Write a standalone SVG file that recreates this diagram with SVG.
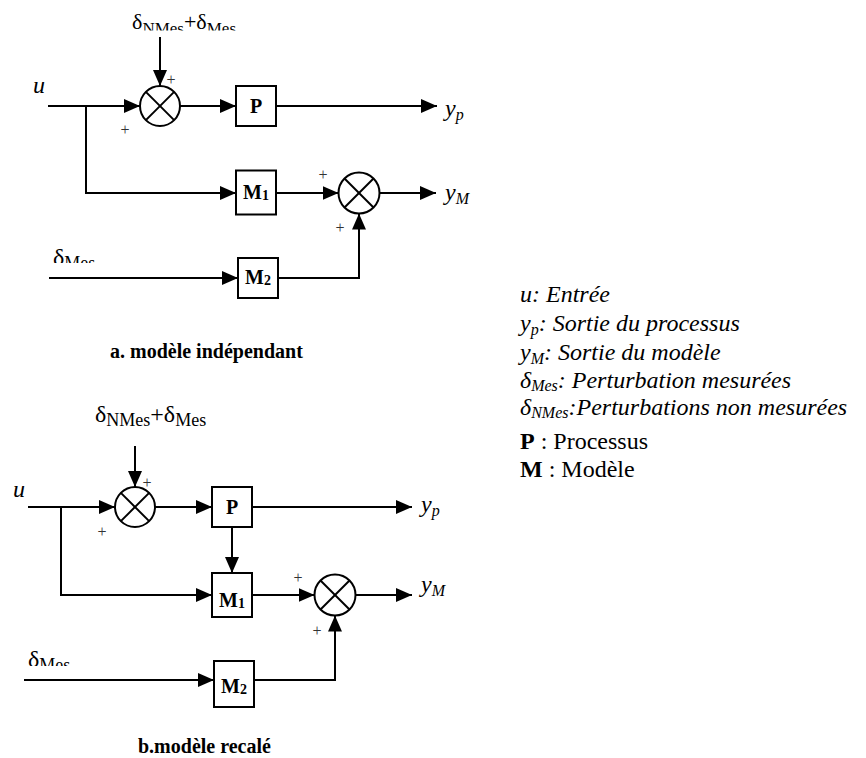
<svg xmlns="http://www.w3.org/2000/svg" width="866" height="758" viewBox="0 0 866 758">
<style>
.ln{fill:none;stroke:#000;stroke-width:2}
.ar{marker-end:url(#ah)}
.box{fill:#fff;stroke:#000;stroke-width:2}
.sum circle{fill:#fff;stroke:#000;stroke-width:2}
.sum line{stroke:#000;stroke-width:2}
.t{font-family:"Liberation Serif","Times New Roman",serif;fill:#000}
.bl{font-weight:bold;font-size:20px;text-anchor:middle}
.pl{font-family:"Liberation Serif","Times New Roman",serif;font-size:16px;fill:#333;text-anchor:middle}
.it{font-style:italic;font-size:24px}
.cap{font-size:20px;font-weight:bold}
.lg{font-size:24px;font-style:italic}
</style>
<defs>
<marker id="ah" markerUnits="userSpaceOnUse" markerWidth="16" markerHeight="14" refX="16" refY="7" orient="auto"><path d="M0,0 L16,7 L0,14 Z" fill="#000"/></marker>
<clipPath id="cA"><rect x="0" y="0" width="400" height="30.5"/></clipPath>
<clipPath id="cB"><rect x="0" y="230" width="200" height="33"/></clipPath>
<clipPath id="cC"><rect x="0" y="630" width="200" height="36"/></clipPath>
</defs>

<!-- ===== a. modèle indépendant ===== -->
<g id="connectors-a">
<line class="ln ar" x1="160" y1="37" x2="160" y2="86"/>
<line class="ln ar" x1="48" y1="106" x2="140" y2="106"/>
<polyline class="ln ar" points="86,106 86,193 236,193"/>
<line class="ln ar" x1="180" y1="106" x2="236" y2="106"/>
<line class="ln ar" x1="276" y1="106" x2="437" y2="106"/>
<line class="ln ar" x1="276" y1="193" x2="338.5" y2="193"/>
<line class="ln ar" x1="379.5" y1="193" x2="436" y2="193"/>
<line class="ln ar" x1="49" y1="278" x2="238" y2="278"/>
<polyline class="ln ar" points="278,278 359,278 359,213.5"/>
</g>

<g id="sum1a" class="sum"><circle cx="160" cy="106" r="20"/><line x1="145.86" y1="91.86" x2="174.14" y2="120.14"/><line x1="174.14" y1="91.86" x2="145.86" y2="120.14"/></g>
<g id="Pa"><rect class="box" x="236" y="86" width="40" height="40"/><text class="t bl" x="256" y="113">P</text></g>
<g id="M1a"><rect class="box" x="236" y="170.5" width="40" height="44"/><text class="t bl" x="256" y="199">M<tspan font-size="14" dy="1">1</tspan></text></g>
<g id="M2a"><rect class="box" x="238" y="258" width="40" height="40"/><text class="t bl" x="258" y="284">M<tspan font-size="14" dy="1">2</tspan></text></g>
<g id="sum2a" class="sum"><circle cx="359" cy="193" r="20.5"/><line x1="344.5" y1="178.5" x2="373.5" y2="207.5"/><line x1="373.5" y1="178.5" x2="344.5" y2="207.5"/></g>

<g id="labels-a">
<text class="t" x="132" y="28.5" font-size="22" clip-path="url(#cA)">δ<tspan font-size="17" dy="5">NMes</tspan><tspan dy="-5">+δ</tspan><tspan font-size="17" dy="5">Mes</tspan></text>
<text class="t it" x="33" y="93">u</text>
<text class="t it" x="445" y="116">y<tspan font-size="16" dy="4">p</tspan></text>
<text class="t it" x="445" y="200">y<tspan font-size="16" dy="4">M</tspan></text>
<text class="t" x="53" y="265" font-size="24" clip-path="url(#cB)">δ<tspan font-size="18" dy="4">Mes</tspan></text>
<text class="pl" x="171" y="85">+</text>
<text class="pl" x="125" y="135">+</text>
<text class="pl" x="323" y="180">+</text>
<text class="pl" x="340" y="233">+</text>
<text class="t cap" x="110" y="358">a. modèle indépendant</text>
</g>

<!-- ===== b. modèle recalé ===== -->
<g id="connectors-b">
<line class="ln ar" x1="135" y1="446" x2="135" y2="487"/>
<line class="ln ar" x1="28" y1="507" x2="115" y2="507"/>
<polyline class="ln ar" points="61,507 61,595 212,595"/>
<line class="ln ar" x1="155" y1="507" x2="212" y2="507"/>
<line class="ln ar" x1="252" y1="507" x2="412" y2="507"/>
<line class="ln ar" x1="232" y1="527" x2="232" y2="573"/>
<line class="ln ar" x1="252" y1="595" x2="314.5" y2="595"/>
<line class="ln ar" x1="355.5" y1="595" x2="412" y2="595"/>
<line class="ln ar" x1="24" y1="680" x2="214" y2="680"/>
<polyline class="ln ar" points="254,680 335,680 335,615.5"/>
</g>

<g id="sum1b" class="sum"><circle cx="135" cy="507" r="20"/><line x1="120.86" y1="492.86" x2="149.14" y2="521.14"/><line x1="149.14" y1="492.86" x2="120.86" y2="521.14"/></g>
<g id="Pb"><rect class="box" x="212" y="487" width="40" height="40"/><text class="t bl" x="232" y="514">P</text></g>
<g id="M1b"><rect class="box" x="212" y="573" width="40" height="44"/><text class="t bl" x="232" y="607">M<tspan font-size="14" dy="1">1</tspan></text></g>
<g id="M2b"><rect class="box" x="214" y="661" width="40" height="46"/><text class="t bl" x="234" y="693">M<tspan font-size="14" dy="1">2</tspan></text></g>
<g id="sum2b" class="sum"><circle cx="335" cy="595" r="20.5"/><line x1="320.5" y1="580.5" x2="349.5" y2="609.5"/><line x1="349.5" y1="580.5" x2="320.5" y2="609.5"/></g>

<g id="labels-b">
<text class="t" x="95" y="421.5" font-size="24">δ<tspan font-size="18" dy="4">NMes</tspan><tspan dy="-4">+δ</tspan><tspan font-size="18" dy="4">Mes</tspan></text>
<text class="t it" x="13" y="497">u</text>
<text class="t it" x="421" y="512">y<tspan font-size="16" dy="4">p</tspan></text>
<text class="t it" x="421" y="592">y<tspan font-size="16" dy="4">M</tspan></text>
<text class="t" x="28" y="667" font-size="24" clip-path="url(#cC)">δ<tspan font-size="18" dy="4">Mes</tspan></text>
<text class="pl" x="147" y="488">+</text>
<text class="pl" x="102" y="537">+</text>
<text class="pl" x="298" y="583">+</text>
<text class="pl" x="317" y="636">+</text>
<text class="t cap" x="138" y="753">b.modèle recalé</text>
</g>

<!-- ===== legend ===== -->
<g id="legend">
<text class="t lg" x="520" y="302">u: Entrée</text>
<text class="t lg" x="520" y="331">y<tspan font-size="16" dy="4">p</tspan><tspan dy="-4">: Sortie du processus</tspan></text>
<text class="t lg" x="520" y="360">y<tspan font-size="16" dy="4">M</tspan><tspan dy="-4">: Sortie du modèle</tspan></text>
<text class="t lg" x="520" y="388">δ<tspan font-size="16" dy="3">Mes</tspan><tspan dy="-3">: Perturbation mesurées</tspan></text>
<text class="t lg" x="520" y="415">δ<tspan font-size="16" dy="3">NMes</tspan><tspan dy="-3">:Perturbations non mesurées</tspan></text>
<text class="t" x="520" y="449" font-size="24"><tspan font-weight="bold">P</tspan> : Processus</text>
<text class="t" x="520" y="477" font-size="24"><tspan font-weight="bold">M</tspan> : Modèle</text>
</g>
</svg>
